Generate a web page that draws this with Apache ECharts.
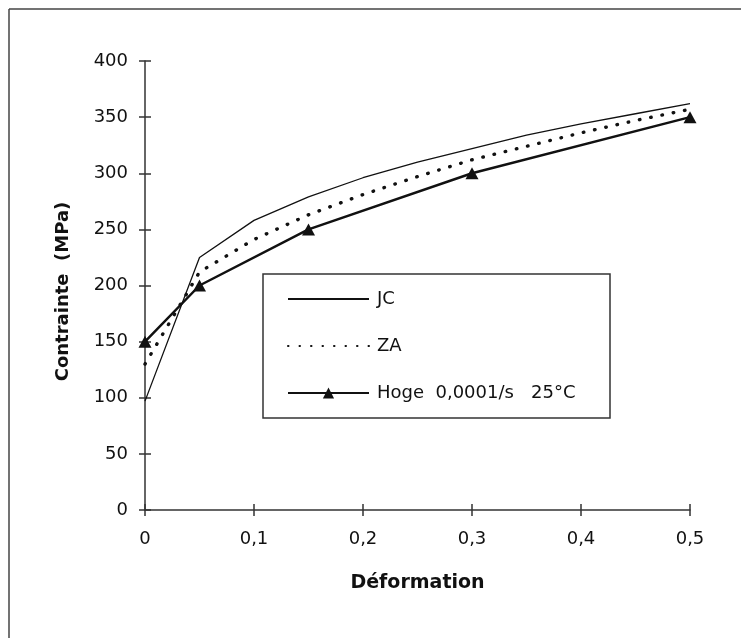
<!DOCTYPE html>
<html>
<head>
<meta charset="utf-8">
<script src="https://cdn.jsdelivr.net/npm/echarts@6/dist/echarts.min.js"></script>
<style>
html,body{margin:0;padding:0;background:#fff;}
#chart{width:741px;height:638px;}
</style>
</head>
<body>
<div id="chart"></div>
<script>
// Data
var strainJC = [0, 0.05, 0.1, 0.15, 0.2, 0.25, 0.3, 0.35, 0.4, 0.45, 0.5];
var stressJC = [97, 225, 258, 279, 296, 310, 322, 334, 344, 353, 362];
var strainZA = [0, 0.05, 0.1, 0.15, 0.2, 0.25, 0.3, 0.35, 0.4, 0.45, 0.5];
var stressZA = [130, 212, 241, 263, 281, 297, 312, 324, 336, 347, 357];
var strainHoge = [0, 0.05, 0.15, 0.3, 0.5];
var stressHoge = [150, 200, 250, 300, 350];
var seriesNames = ['JC', 'ZA', 'Hoge\u00a0\u00a00,0001/s\u00a0\u00a0\u00a025°C'];
var xTicks = [0, 0.1, 0.2, 0.3, 0.4, 0.5];
var yTicks = [0, 50, 100, 150, 200, 250, 300, 350, 400];

function pairs(xs, ys) { return xs.map(function (x, i) { return [x, ys[i]]; }); }

var FONT = 'DejaVu Sans';
var INK = '#111';

var chart = echarts.init(document.getElementById('chart'), null, {renderer: 'canvas'});
var xMin = xTicks[0], xMax = xTicks[xTicks.length - 1];
var yMin = yTicks[0], yMax = yTicks[yTicks.length - 1];

chart.setOption({
  backgroundColor: '#fff',
  animation: false,
  grid: {left: 145, right: 51, top: 61, bottom: 128},
  xAxis: [{
    type: 'value', min: xMin, max: xMax, interval: 0.1,
    name: 'Déformation', nameLocation: 'middle', nameGap: 64,
    nameTextStyle: {fontFamily: FONT, fontSize: 19, fontWeight: 'bold', color: INK},
    axisLine: {show: true, lineStyle: {color: '#333', width: 1.5}},
    axisTick: {show: true, length: 6, lineStyle: {color: '#333', width: 1.5}},
    axisLabel: {margin: 20, fontFamily: FONT, fontSize: 18, color: INK,
      formatter: function (v) { return String(Math.round(v * 10) / 10).replace('.', ','); }},
    splitLine: {show: false}
  }, {
    type: 'value', min: xMin, max: xMax, interval: 0.1, position: 'bottom',
    axisLine: {show: false},
    axisTick: {show: true, inside: true, length: 6, lineStyle: {color: '#333', width: 1.5}},
    axisLabel: {show: false}, splitLine: {show: false}
  }],
  yAxis: [{
    type: 'value', min: yMin, max: yMax, interval: 50,
    name: 'Contrainte\u00a0\u00a0(MPa)', nameLocation: 'middle', nameGap: 73, nameRotate: 90,
    nameTextStyle: {fontFamily: FONT, fontSize: 18, fontWeight: 'bold', color: INK, padding: [0, 12, 0, 0]},
    axisLine: {show: true, lineStyle: {color: '#333', width: 1.5}},
    axisTick: {show: true, length: 6, lineStyle: {color: '#333', width: 1.5}},
    axisLabel: {margin: 17, fontFamily: FONT, fontSize: 18, color: INK},
    splitLine: {show: false}
  }, {
    type: 'value', min: yMin, max: yMax, interval: 50, position: 'left',
    axisLine: {show: false},
    axisTick: {show: true, inside: true, length: 6, lineStyle: {color: '#333', width: 1.5}},
    axisLabel: {show: false}, splitLine: {show: false}
  }],
  legend: {
    orient: 'vertical', left: 287, top: 290,
    itemWidth: 81, itemHeight: 14, itemGap: 29,
    padding: 0,
    data: [
      {name: seriesNames[0], itemStyle: {opacity: 0}},
      {name: seriesNames[1], itemStyle: {opacity: 0}},
      {name: seriesNames[2]}
    ],
    textStyle: {fontFamily: FONT, fontSize: 18, color: INK, padding: [0, 0, 0, 3]}
  },
  graphic: [
    {type: 'line', shape: {x1: 9, y1: 9, x2: 741, y2: 9}, style: {stroke: '#444', lineWidth: 1.5}, z: 10},
    {type: 'line', shape: {x1: 9, y1: 9, x2: 9, y2: 638}, style: {stroke: '#444', lineWidth: 1.5}, z: 10},
    {type: 'rect', shape: {x: 263, y: 274, width: 347, height: 144},
     style: {fill: '#fff', stroke: '#333', lineWidth: 1.5}, z: 1}
  ],
  series: [{
    name: seriesNames[0], type: 'line', data: pairs(strainJC, stressJC),
    symbol: 'none', lineStyle: {color: INK, width: 1.3}, itemStyle: {color: INK}, z: 3
  }, {
    name: seriesNames[1], type: 'line', data: pairs(strainZA, stressZA),
    symbol: 'none', lineStyle: {color: INK, width: 3.4, type: [0.5, 11], cap: 'round'},
    itemStyle: {color: INK}, z: 3
  }, {
    name: seriesNames[2], type: 'line', data: pairs(strainHoge, stressHoge),
    symbol: 'triangle', symbolSize: [13, 12], showAllSymbol: true,
    lineStyle: {color: INK, width: 2.5}, itemStyle: {color: INK}, z: 4
  }]
});
</script>
</body>
</html>
